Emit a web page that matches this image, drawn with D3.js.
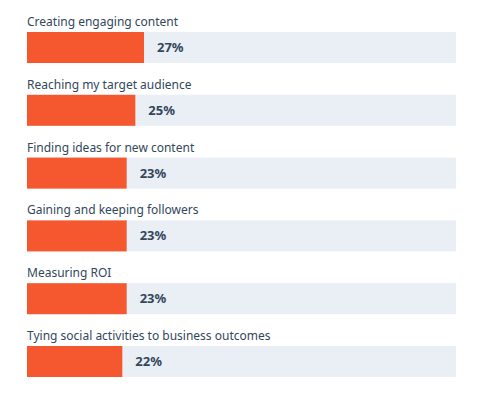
<!DOCTYPE html>
<html>
  <head>
    <meta charset="utf-8">
    <script src="https://d3js.org/d3.v7.min.js"></script>
    <style>
      body { margin: 0; background: #fff; }
    </style>
  </head>
  <body>
    <script>
    var categories = [
      "Creating engaging content",
      "Reaching my target audience",
      "Finding ideas for new content",
      "Gaining and keeping followers",
      "Measuring ROI",
      "Tying social activities to business outcomes"
    ];
    var values = [27, 25, 23, 23, 23, 22];

    var width = 499, height = 405;
    var left = 27, right = 456;
    var top0 = 32, step = 62.8, barH = 31;

    var svg = d3.select("body").append("svg")
      .attr("width", width)
      .attr("height", height);

    // track is wider than 100/… so scale is pixels per percent
    var x = d3.scaleLinear().domain([0, 99]).range([left, right]);
    var y = d3.scaleLinear().domain([0, 1]).range([top0, top0 + step]);

    var g = svg.selectAll(".row")
      .data(categories)
      .enter().append("g")
      .attr("class", "row")
      .attr("transform", function(d, i) { return "translate(0," + y(i) + ")"; });

    g.append("rect")
      .attr("x", left)
      .attr("y", 0)
      .attr("width", right - left)
      .attr("height", barH)
      .style("fill", "#eaeef5");

    g.append("rect")
      .attr("x", left)
      .attr("y", 0)
      .attr("width", function(d, i) { return x(values[i]) - left; })
      .attr("height", barH)
      .style("fill", "#f5582e");

    g.append("text")
      .attr("x", left)
      .attr("y", -6)
      .text(function(d) { return d; })
      .style("font-family", "'Noto Sans', sans-serif")
      .style("font-size", "12px")
      .style("fill", "#33475b");

    g.append("text")
      .attr("x", function(d, i) { return x(values[i]) + 13; })
      .attr("y", barH / 2)
      .attr("dy", "0.35em")
      .text(function(d, i) { return values[i] + "%"; })
      .style("font-family", "'Noto Sans', sans-serif")
      .style("font-weight", "bold")
      .style("font-size", "13px")
      .style("fill", "#33475b");
    </script>
  </body>
</html>
